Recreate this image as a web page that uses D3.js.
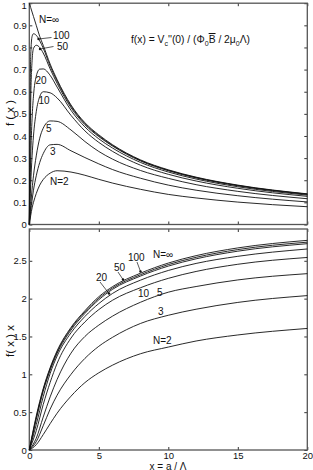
<!DOCTYPE html>
<html lang="en">
<head>
<meta charset="UTF-8">
<title>f(x) vs x</title>
<style>
  body { margin: 0; background: #fff; }
  svg text { font-family: "Liberation Sans", Arial, sans-serif; fill: #111; }
</style>
</head>
<body>
<svg></svg>
<script src="https://cdn.jsdelivr.net/npm/d3@7"></script>
<script>
  // --- top panel: f(x), one array per N
  const xTop = [0, 0.1, 0.2, 0.3, 0.5, 0.75, 1, 1.5, 2, 3, 4, 5, 6, 8, 10, 12, 15, 20]
  const fInf = [1, 0.98, 0.96, 0.94, 0.90, 0.85, 0.81, 0.725, 0.655, 0.54, 0.46, 0.405, 0.36, 0.292, 0.247, 0.214, 0.178, 0.1385]
  const f100 = [0, 0.76, 0.85, 0.862, 0.855, 0.83, 0.797, 0.716, 0.648, 0.535, 0.456, 0.401, 0.357, 0.2895, 0.245, 0.2122, 0.1765, 0.1373]
  const f50  = [0, 0.55, 0.74, 0.795, 0.81, 0.80, 0.775, 0.703, 0.638, 0.528, 0.451, 0.397, 0.354, 0.2873, 0.243, 0.2105, 0.1751, 0.1363]
  const f20  = [0, 0.30, 0.48, 0.58, 0.67, 0.702, 0.703, 0.674, 0.621, 0.516, 0.441, 0.387, 0.345, 0.2805, 0.2372, 0.2054, 0.1706, 0.1328]
  const f10  = [0, 0.18, 0.31, 0.40, 0.51, 0.578, 0.600, 0.595, 0.572, 0.493, 0.423, 0.371, 0.33, 0.268, 0.2268, 0.1966, 0.1636, 0.1272]
  const f5   = [0, 0.085, 0.16, 0.22, 0.31, 0.39, 0.435, 0.468, 0.466, 0.427, 0.375, 0.33, 0.295, 0.244, 0.2085, 0.180, 0.1498, 0.1165]
  const f3   = [0, 0.06, 0.11, 0.155, 0.22, 0.28, 0.32, 0.36, 0.362, 0.333, 0.3025, 0.274, 0.248, 0.209, 0.178, 0.155, 0.13, 0.102]
  const f2   = [0, 0.04, 0.075, 0.10, 0.14, 0.178, 0.203, 0.232, 0.243, 0.237, 0.2225, 0.204, 0.187, 0.159, 0.136, 0.12, 0.1013, 0.0803]

  // --- bottom panel: f(x) x
  const xBot = [0, 0.5, 1, 1.5, 2, 3, 4, 5, 6, 8, 10, 12, 15, 20]
  const gInf = [0, 0.45, 0.81, 1.088, 1.31, 1.62, 1.84, 2.025, 2.16, 2.336, 2.47, 2.568, 2.67, 2.77]
  const g100 = [0, 0.428, 0.797, 1.074, 1.296, 1.605, 1.824, 2.005, 2.142, 2.316, 2.45, 2.546, 2.648, 2.746]
  const g50  = [0, 0.405, 0.775, 1.055, 1.276, 1.584, 1.804, 1.985, 2.124, 2.298, 2.43, 2.526, 2.627, 2.726]
  const g20  = [0, 0.335, 0.703, 1.011, 1.242, 1.548, 1.764, 1.935, 2.07, 2.244, 2.372, 2.465, 2.559, 2.656]
  const g10  = [0, 0.255, 0.6, 0.893, 1.144, 1.479, 1.692, 1.855, 1.98, 2.144, 2.268, 2.359, 2.454, 2.544]
  const g5   = [0, 0.155, 0.435, 0.702, 0.932, 1.28, 1.50, 1.65, 1.77, 1.952, 2.085, 2.16, 2.247, 2.33]
  const g3   = [0, 0.11, 0.32, 0.54, 0.724, 1.0, 1.21, 1.37, 1.49, 1.672, 1.78, 1.86, 1.95, 2.04]
  const g2   = [0, 0.07, 0.203, 0.348, 0.486, 0.711, 0.89, 1.02, 1.122, 1.272, 1.36, 1.44, 1.52, 1.606]

  const xTicks = [0, 5, 10, 15, 20]
  const yTicksTop = [0, 0.1, 0.2, 0.3, 0.4, 0.5, 0.6, 0.7, 0.8, 0.9, 1]
  const yTicksBot = [0, 0.5, 1, 1.5, 2, 2.5]

  var width = 313
  var height = 470
  var left = 29.3, right = 307.3

  var svg = d3.select("svg").attr("width", width).attr("height", height)

  var x = d3.scaleLinear().domain([0, 20]).range([left, right])
  var yTop = d3.scaleLinear().domain([0, 1]).range([224.5, 3.2])
  var yBot = d3.scaleLinear().domain([0, 2.92]).range([450, 229])

  var line = (xs, ys, y) => d3.line()
      .x((d, i) => x(xs[i]))
      .y(d => y(d))
      .curve(d3.curveMonotoneX)(ys)

  function panel(y, ticks, showX) {
    var g = svg.append("g")
    var [y0, y1] = y.range()
    g.append("g").attr("transform", `translate(${left},0)`)
      .call(d3.axisLeft(y).tickValues(ticks).tickSize(-3).tickPadding(2.5).tickFormat(d3.format("~g")))
    g.append("g").attr("transform", `translate(${right},0)`)
      .call(d3.axisRight(y).tickValues(ticks).tickSize(-3).tickFormat(""))
    g.append("g").attr("transform", `translate(0,${y1})`)
      .call(d3.axisTop(x).tickValues(xTicks).tickSize(-3).tickFormat(""))
    g.append("g").attr("transform", `translate(0,${y0})`)
      .call(d3.axisBottom(x).tickValues(xTicks).tickSize(-3).tickPadding(2)
        .tickFormat(showX ? d3.format("~g") : ""))
    g.selectAll(".domain").remove()
    g.selectAll(".tick line").attr("stroke", "#333")
    g.selectAll(".tick text").attr("font-size", 9.5)
    g.append("rect").attr("x", left).attr("y", y1)
      .attr("width", right - left).attr("height", y0 - y1)
      .attr("fill", "none").attr("stroke", "#555").attr("stroke-width", 1.3)
    return g
  }

  var topPanel = panel(yTop, yTicksTop, false)
  panel(yBot, yTicksBot, true)
  // keep the "1" at the very top inside the picture
  topPanel.selectAll(".tick text").filter(d => d === 1).attr("dy", "0.55em")

  var topSeries = [fInf, f100, f50, f20, f10, f5, f3, f2]
  var botSeries = [gInf, g100, g50, g20, g10, g5, g3, g2]

  svg.append("g").selectAll("path").data(topSeries).join("path")
    .attr("d", d => line(xTop, d, yTop))
    .attr("fill", "none").attr("stroke", "#111").attr("stroke-width", 0.9)

  svg.append("g").selectAll("path").data(botSeries).join("path")
    .attr("d", d => line(xBot, d, yBot))
    .attr("fill", "none").attr("stroke", "#111").attr("stroke-width", 0.9)

  // curve labels
  function label(px, py, t) {
    svg.append("text").attr("x", px).attr("y", py).attr("font-size", 10).text(t)
  }
  function leader(x1, y1, x2, y2) {
    svg.append("line").attr("x1", x1).attr("y1", y1).attr("x2", x2).attr("y2", y2)
      .attr("stroke", "#111").attr("stroke-width", 0.7)
    svg.append("circle").attr("cx", x2).attr("cy", y2).attr("r", 1.2).attr("fill", "#111")
  }

  label(39, 23, "N=∞")
  label(53, 39, "100"); leader(51.5, 37.5, 38.5, 39)
  label(57, 50, "50"); leader(53.5, 46.5, 40, 49)
  label(35.5, 84, "20")
  label(38.5, 104, "10")
  label(46, 132, "5")
  label(50, 154.5, "3")
  label(50, 184.5, "N=2")

  label(153, 258, "N=∞")
  label(128, 261, "100"); leader(137, 262, 140.5, 271.5)
  label(114, 271, "50"); leader(118, 272, 123, 279.5)
  label(96, 281, "20"); leader(100, 282, 109, 293.5)
  label(138, 296.5, "10")
  label(157, 295.5, "5")
  label(158, 315, "3")
  label(153, 344, "N=2")

  // formula
  var ft = svg.append("text").attr("x", 131).attr("y", 43).attr("font-size", 10.3)
  ft.append("tspan").text("f(x) = V")
  ft.append("tspan").attr("font-size", 7).attr("dy", 3).text("c")
  ft.append("tspan").attr("dy", -3).text("''(0) / (Φ")
  ft.append("tspan").attr("font-size", 7).attr("dy", 3).text("0")
  ft.append("tspan").attr("dy", -3).attr("text-decoration", "overline").text("B")
  ft.append("tspan").text(" / 2μ")
  ft.append("tspan").attr("font-size", 7).attr("dy", 3).text("0")
  ft.append("tspan").attr("dy", -3).text("Λ)")

  // axis titles
  svg.append("text").attr("transform", "translate(13.5,113) rotate(-90)")
    .attr("text-anchor", "middle").attr("font-size", 11.5).text("f ( x )")
  svg.append("text").attr("transform", "translate(13.5,341) rotate(-90)")
    .attr("text-anchor", "middle").attr("font-size", 11.5).text("f( x )   x")
  svg.append("text").attr("x", 168).attr("y", 469.5).attr("text-anchor", "middle")
    .attr("font-size", 10).text("x = a / Λ")
</script>
</body>
</html>
